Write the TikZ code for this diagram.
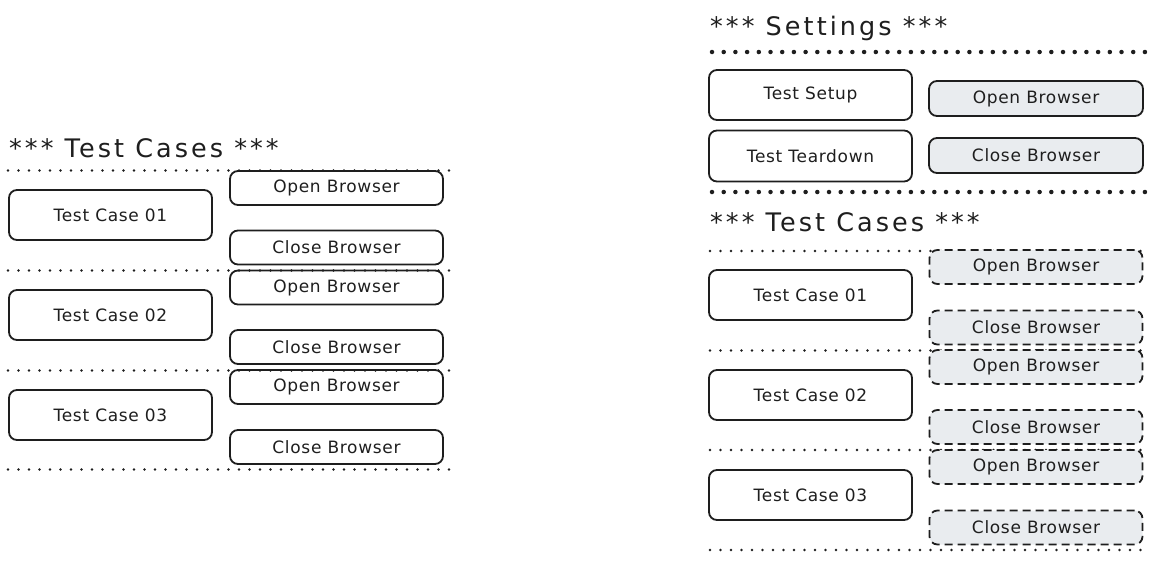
\documentclass[tikz,border=0pt]{standalone}
\usepackage{fontspec}
\setmainfont{DejaVu Sans}
\newfontfamily\handfont[LetterSpace=4]{DejaVu Sans}
\newfontfamily\headfont[LetterSpace=12]{DejaVu Sans}
\definecolor{ink}{HTML}{1E1E1E}
\definecolor{greyfill}{HTML}{E9ECEF}
\tikzset{
  box/.style={draw=ink, line width=1.8pt, rounded corners=8pt, inner sep=0pt, align=center,
    font=\handfont\fontsize{17}{19}\selectfont, text=ink},
  casebox/.style={box, minimum width=203pt, minimum height=50pt},
  kwbox/.style={box, minimum width=213pt, minimum height=34pt},
  greybox/.style={kwbox, fill=greyfill},
  dashbox/.style={kwbox, fill=greyfill, dash pattern=on 8pt off 5pt},
  sep/.style={draw=ink, line width=2.6pt, line cap=round, dash pattern=on 0pt off 10.5pt},
  bigsep/.style={draw=ink, line width=4.5pt, line cap=round, dash pattern=on 0pt off 11.7pt},
  head/.style={anchor=west, inner sep=0pt, text=ink, font=\headfont\fontsize{25.5}{28}\selectfont}
}
\begin{document}
\begin{tikzpicture}[x=1pt,y=-1pt]
\useasboundingbox (0,0) rectangle (1161,560);

% ---------------- Left: Test Cases ----------------
\node[head] (lhead) at (9,148) {*** Test Cases ***};
\draw[sep] (8,170.5) -- (450,170.5);
\draw[sep] (8,270.5) -- (450,270.5);
\draw[sep] (8,370.5) -- (450,370.5);
\draw[sep] (8,469.5) -- (450,469.5);

\node[casebox] (ltc1) at (110.5,215) {Test Case 01};
\node[kwbox]   (lob1) at (336.5,188) {Open Browser};
\node[kwbox]   (lcb1) at (336.5,247.5) {Close Browser};

\node[casebox] (ltc2) at (110.5,315) {Test Case 02};
\node[kwbox]   (lob2) at (336.5,287.5) {Open Browser};
\node[kwbox]   (lcb2) at (336.5,347) {Close Browser};

\node[casebox] (ltc3) at (110.5,415) {Test Case 03};
\node[kwbox]   (lob3) at (336.5,387) {Open Browser};
\node[kwbox]   (lcb3) at (336.5,447) {Close Browser};

% ---------------- Right: Settings ----------------
\node[head] (shead) at (710,28) {*** Settings ***};
\draw[bigsep] (712,52) -- (1150,52);
\draw[bigsep] (712,192) -- (1150,192);

\node[casebox] (setup) at (810.5,95) {Test Setup};
\node[greybox, minimum width=214pt, minimum height=35pt] (sob) at (1036,98.5) {Open Browser};
\node[casebox, minimum height=51pt] (teardown) at (810.5,156) {Test Teardown};
\node[greybox, minimum width=214pt, minimum height=35pt] (scb) at (1036,155.5) {Close Browser};

% ---------------- Right: Test Cases ----------------
\node[head] (rhead) at (710,222) {*** Test Cases ***};
\draw[sep] (710,251) -- (1150,251);
\draw[sep] (710,350.5) -- (1150,350.5);
\draw[sep] (710,450) -- (1150,450);
\draw[sep] (710,550) -- (1150,550);

\node[casebox] (rtc1) at (810.5,295) {Test Case 01};
\node[dashbox] (rob1) at (1036,267) {Open Browser};
\node[dashbox] (rcb1) at (1036,327.5) {Close Browser};

\node[casebox] (rtc2) at (810.5,395) {Test Case 02};
\node[dashbox] (rob2) at (1036,367) {Open Browser};
\node[dashbox] (rcb2) at (1036,427) {Close Browser};

\node[casebox] (rtc3) at (810.5,495) {Test Case 03};
\node[dashbox] (rob3) at (1036,467) {Open Browser};
\node[dashbox] (rcb3) at (1036,527.5) {Close Browser};
\end{tikzpicture}
\end{document}
